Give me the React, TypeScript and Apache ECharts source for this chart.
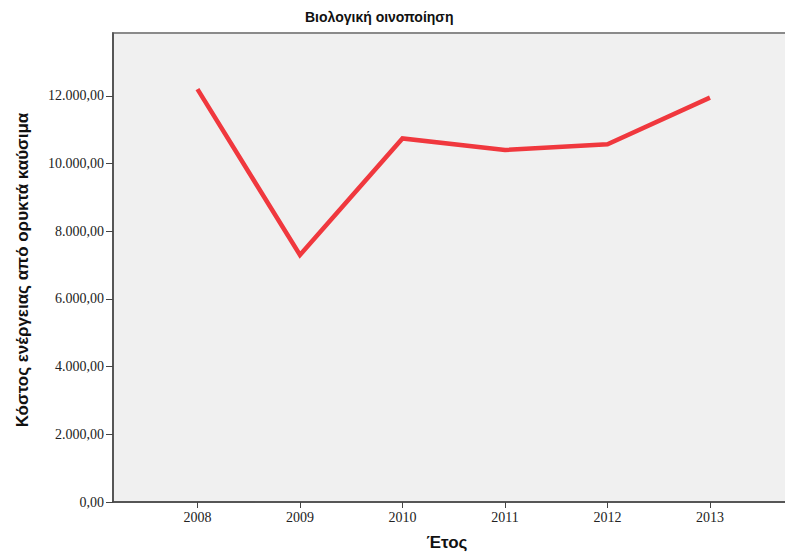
import React, { useEffect, useRef } from "react";
import * as echarts from "echarts";

const years = [2008, 2009, 2010, 2011, 2012, 2013];
const costs = [12200, 7300, 10745, 10405, 10573, 11950];
const yTicks = [0, 2000, 4000, 6000, 8000, 10000, 12000];
const titleText = "Βιολογική οινοποίηση";
const yName = "Κόστος ενέργειας από ορυκτά καύσιμα";
const xName = "Έτος";

function fmt(v: number): string {
  const s = Math.round(v).toString().replace(/\B(?=(\d{3})+(?!\d))/g, ".");
  return s + ",00";
}

export default function App() {
  const ref = useRef<HTMLDivElement>(null);
  useEffect(() => {
    if (!ref.current) return;
    const chart = echarts.init(ref.current, null, { renderer: "svg" });
    const narrow = "'Liberation Sans Narrow', 'Arial Narrow', 'Liberation Sans', Arial, sans-serif";
    const serif = "'Liberation Serif', 'Times New Roman', serif";
    chart.setOption({
      animation: false,
      backgroundColor: "#ffffff",
      grid: {
        left: 113,
        top: 33,
        width: 681,
        height: 469,
        show: true,
        backgroundColor: "#f0f0f0",
        borderColor: "#8a8a8a",
        borderWidth: 2,
      },
      xAxis: {
        type: "value",
        min: 2007.176,
        max: 2013.82,
        splitLine: { show: false },
        axisLine: { show: true, onZero: false, lineStyle: { color: "#444", width: 1.5 } },
        axisTick: { show: true, customValues: years, length: 6, lineStyle: { color: "#444" } },
        axisLabel: {
          customValues: years,
          color: "#222",
          fontFamily: serif,
          fontSize: 14,
          margin: 8,
          formatter: (v: number) => String(Math.round(v)),
        },
      },
      yAxis: {
        type: "value",
        min: 0,
        max: 13860,
        splitLine: { show: false },
        axisLine: { show: true, lineStyle: { color: "#444", width: 1.5 } },
        axisTick: { show: true, customValues: yTicks, length: 7, lineStyle: { color: "#444" } },
        axisLabel: {
          customValues: yTicks,
          color: "#222",
          fontFamily: serif,
          fontSize: 14,
          margin: 9,
          formatter: (v: number) => fmt(v),
        },
      },
      series: [
        {
          type: "line",
          data: years.map((y, i) => [y, costs[i]]),
          symbol: "none",
          lineStyle: { color: "#f0383e", width: 4.5, cap: "butt", join: "miter" },
        },
      ],
      graphic: [
        {
          type: "text",
          left: 305,
          top: 10,
          style: {
            text: titleText,
            x: 0,
            y: 0,
            fill: "#111",
            font: "bold 14px " + narrow,
          },
        },
        {
          type: "text",
          x: 22,
          y: 270,
          rotation: Math.PI / 2,
          style: {
            text: yName,
            fill: "#111",
            font: "bold 17px " + narrow,
            align: "center",
            verticalAlign: "middle",
          },
        },
        {
          type: "text",
          x: 447,
          y: 542,
          style: {
            text: xName,
            fill: "#111",
            font: "bold 17px " + narrow,
            align: "center",
            verticalAlign: "middle",
          },
        },
      ],
    });
    return () => chart.dispose();
  }, []);
  return (
    <div style={{ position: "fixed", left: 0, top: 0, width: 785, height: 553, overflow: "hidden" }}>
      <div ref={ref} style={{ width: 820, height: 553 }} />
    </div>
  );
}
